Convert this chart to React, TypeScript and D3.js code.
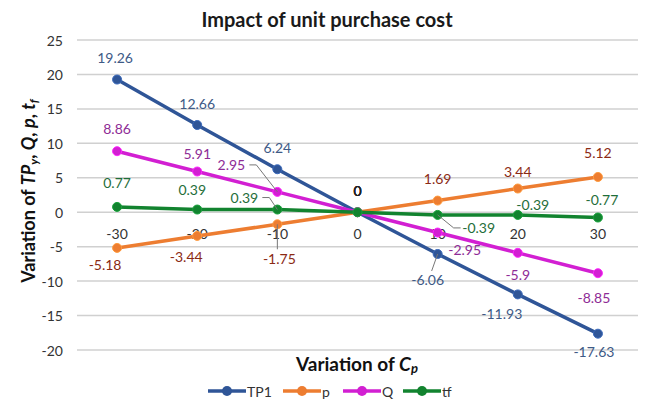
import React from "react";
import * as d3 from "d3";

// variation of Cp (%)
const categories = ["-30", "-20", "-10", "0", "10", "20", "30"];
const yTicks = [-20, -15, -10, -5, 0, 5, 10, 15, 20, 25];

const tp1Values = [19.26, 12.66, 6.24, 0, -6.06, -11.93, -17.63];
const pValues = [-5.18, -3.44, -1.75, 0, 1.69, 3.44, 5.12];
const qValues = [8.86, 5.91, 2.95, 0, -2.95, -5.9, -8.85];
const tfValues = [0.77, 0.39, 0.39, 0, -0.39, -0.39, -0.77];

const seriesNames = ["TP1", "p", "Q", "tf"];

const W = 645;
const H = 401;
const FONT = "Lato, 'Open Sans', sans-serif";

// label offsets [dx, dy, leader] relative to each point
type Off = [number, number, boolean?];
const labelOffsets: Record<string, Off[]> = {
  TP1: [[-2, -22], [0, -22], [0, -22], [0, -22], [-10, 26, true], [-16, 19], [-4, 18]],
  p: [[-12, 17], [-11, 21], [2, 34, true], [0, -22], [0, -22], [0, -17], [0, -24]],
  Q: [[0, -23], [0, -18], [-46, -27, true], [0, -22], [27, 17], [0, 22], [-4, 24]],
  tf: [[0, -24], [-5, -20], [-33, -12, true], [0, -22], [41, 13, true], [15, -10], [4, -18]],
};

const styles: Record<string, { line: string; label: string }> = {
  TP1: { line: "#2F5597", label: "#3E5A86" },
  p: { line: "#ED7D31", label: "#8B2A14" },
  Q: { line: "#D21FD2", label: "#8E2C96" },
  tf: { line: "#12832F", label: "#1F6E3A" },
};

export default function App() {
  const seriesData: Record<string, number[]> = {
    TP1: tp1Values,
    p: pValues,
    Q: qValues,
    tf: tfValues,
  };

  const x = d3.scaleBand<string>().domain(categories).range([77, 638]);
  const cx = (c: string) => (x(c) as number) + x.bandwidth() / 2;
  const y = d3.scaleLinear().domain([-20, 25]).range([350, 40]);

  const line = d3
    .line<number>()
    .x((_, i) => cx(categories[i]))
    .y((d) => y(d));

  const drawOrder = ["TP1", "p", "Q", "tf"];

  const legendX: Record<string, number> = { TP1: 208, p: 283, Q: 343, tf: 403 };
  const legendY = 391;

  return (
    <svg
      width={W}
      height={H}
      style={{ position: "absolute", left: 0, top: 0, background: "#fff" }}
      fontFamily={FONT}
    >
      <text x={327} y={19} textAnchor="middle" dominantBaseline="central" fontSize={20} fontWeight="bold" fill="#1a1a1a">
        Impact of unit purchase cost
      </text>

      {/* gridlines + y tick labels */}
      {yTicks.map((t) => (
        <g key={t}>
          <line x1={77} x2={638} y1={y(t)} y2={y(t)} stroke="#d0d0d0" strokeWidth={1.5} />
          <text x={63} y={y(t)} textAnchor="end" dominantBaseline="central" fontSize={14} fill="#333">
            {t}
          </text>
        </g>
      ))}

      {/* category labels sit under the zero line */}
      {categories.map((c) => (
        <text key={c} x={cx(c)} y={y(0) + 21} textAnchor="middle" dominantBaseline="central" fontSize={14} fill="#333">
          {c}
        </text>
      ))}

      {drawOrder.map((name) => (
        <g key={name}>
          <path d={line(seriesData[name]) || ""} fill="none" stroke={styles[name].line} strokeWidth={3.5} />
          {seriesData[name].map((v, i) => (
            <circle
              key={i}
              cx={cx(categories[i])}
              cy={y(v)}
              r={4.5}
              fill={styles[name].line}
              stroke={d3.color(styles[name].line)!.brighter(0.6).toString()}
              strokeWidth={1}
            />
          ))}
        </g>
      ))}

      {/* data labels */}
      {drawOrder.map((name) =>
        seriesData[name].map((v, i) => {
          const [dx, dy, leader] = labelOffsets[name][i];
          const px = cx(categories[i]);
          const py = y(v);
          const lx = px + dx;
          const ly = py + dy;
          return (
            <g key={name + i}>
              {leader && (
                <polyline
                  points={
                    dx < -20
                      ? `${lx + 18},${ly} ${lx + 25},${ly} ${px},${py}`
                      : dx > 20
                      ? `${lx - 18},${ly} ${lx - 25},${ly} ${px},${py}`
                      : `${px},${py} ${lx + (dx === 2 ? -2 : 4)},${ly - 9}`
                  }
                  fill="none"
                  stroke="#777"
                  strokeWidth={1}
                />
              )}
              <text
                x={lx}
                y={ly}
                textAnchor="middle"
                dominantBaseline="central"
                fontSize={14}
                fill={v === 0 ? "#222" : styles[name].label}
              >
                {v}
              </text>
            </g>
          );
        })
      )}

      {/* axis titles */}
      <text x={357} y={363} textAnchor="middle" dominantBaseline="central" fontSize={19} fontWeight="bold" fill="#111">
        Variation of <tspan fontStyle="italic">C</tspan>
        <tspan fontStyle="italic" fontSize={13} dy={5}>p</tspan>
      </text>

      <text
        transform="translate(28,191) rotate(-90)"
        textAnchor="middle"
        dominantBaseline="central"
        fontSize={18}
        fontWeight="bold"
        fill="#111"
      >
        Variation of <tspan fontStyle="italic">TP</tspan>
        <tspan fontStyle="italic" fontSize={12} dy={5}>y</tspan>
        <tspan dy={-5}>, </tspan>
        <tspan fontStyle="italic">Q</tspan>, <tspan fontStyle="italic">p</tspan>,{" "}
        <tspan fontStyle="italic">t</tspan>
        <tspan fontStyle="italic" fontSize={12} dy={5}>f</tspan>
      </text>

      {/* legend */}
      {seriesNames.map((name) => {
        const lx = legendX[name];
        return (
          <g key={name}>
            <line x1={lx} x2={lx + 38} y1={legendY} y2={legendY} stroke={styles[name].line} strokeWidth={3.5} />
            <circle cx={lx + 19} cy={legendY} r={5} fill={styles[name].line} />
            <text x={lx + 39} y={legendY} dominantBaseline="central" fontSize={14} fill="#333">
              {name}
            </text>
          </g>
        );
      })}
    </svg>
  );
}
